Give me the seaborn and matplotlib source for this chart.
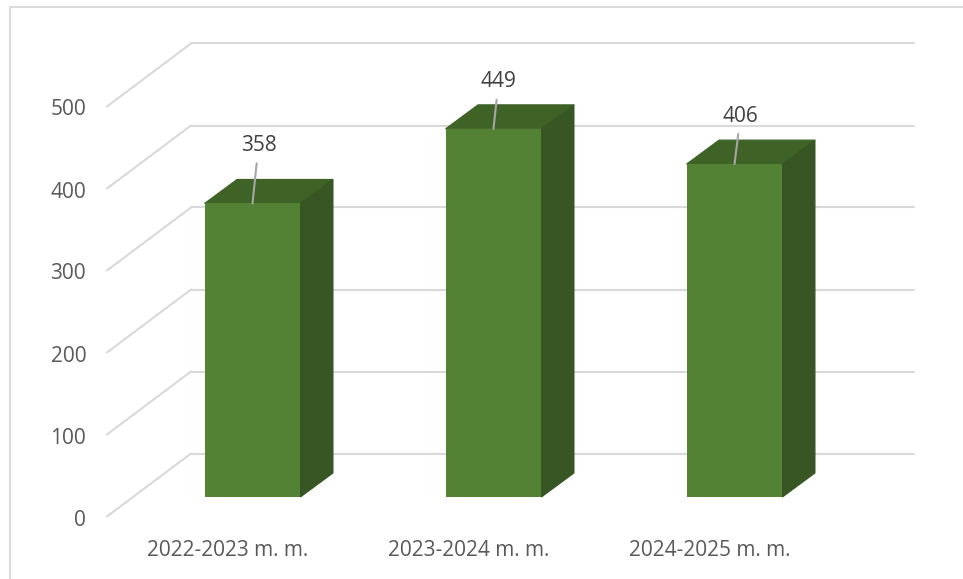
import matplotlib
matplotlib.use("Agg")
import matplotlib.pyplot as plt
from matplotlib.patches import Polygon
from matplotlib.transforms import Affine2D
import seaborn as sns

# Chart data
years = ["2022-2023 m. m.", "2023-2024 m. m.", "2024-2025 m. m."]
values = [358, 449, 406]
y_ticks = [0, 100, 200, 300, 400, 500]

# Fake 3D offsets in pixels
WALL_DX, WALL_DY = 84, 63
BAR_DX, BAR_DY = 25, 19.5
DEPTH_DX, DEPTH_DY = 32.5, 24

# where each value label sits relative to its bar top, in pixels
label_offsets = [(6, 58), (5, 47), (6, 48)]

FRONT = "#548235"
TOP = "#3f6327"
SIDE = "#375623"
GRID = "#d9d9d9"
TEXT = "#595959"

sns.set_theme(style="white")
plt.rcParams["font.family"] = ["Open Sans", "DejaVu Sans"]

W, H = 963, 579
fig = plt.figure(figsize=(W / 100, H / 100), dpi=100)
ax = fig.add_axes([107 / W, 1 - 516.5 / H, 723 / W, 410 / H])

sns.barplot(x=years, y=values, color=FRONT, saturation=1, width=0.398, linewidth=0, ax=ax, zorder=3)
ax.set_xlim(-0.5, 2.5)
ax.set_ylim(0, 500)
ax.set_yticks(y_ticks)
sns.despine(ax=ax, left=True, bottom=True)
ax.tick_params(axis="y", length=0, pad=15, labelsize=15, labelcolor=TEXT)
ax.tick_params(axis="x", length=0, pad=17, labelsize=15, labelcolor=TEXT)

# y labels sit a little under their grid lines
for lab in ax.get_yticklabels():
    lab.set_transform(lab.get_transform() + Affine2D().translate(0, -1))

wall_tr = ax.transData + Affine2D().translate(WALL_DX, WALL_DY)
bar_tr = ax.transData + Affine2D().translate(BAR_DX, BAR_DY)

# back wall grid lines and the diagonals on the side wall
for t in y_ticks:
    ax.plot([-0.5, 2.5], [t, t], color=GRID, lw=1.5, transform=wall_tr, clip_on=False, zorder=1)
    p0 = ax.transData.transform((-0.5, t))
    diag = plt.Line2D([p0[0], p0[0] + WALL_DX], [p0[1], p0[1] + WALL_DY], color=GRID, lw=1.5,
                      transform=None, clip_on=False, zorder=1)
    ax.add_artist(diag)

# front faces moved back, then top and side faces
for bar, val, off in zip(ax.patches, values, label_offsets):
    bar.set_transform(bar_tr)
    bar.set_clip_on(False)
    x0 = bar.get_x()
    x1 = x0 + bar.get_width()
    (ax0, ay0), (ax1, ay1) = bar_tr.transform([(x0, 0), (x1, val)])
    top = [(ax0, ay1), (ax1, ay1), (ax1 + DEPTH_DX, ay1 + DEPTH_DY), (ax0 + DEPTH_DX, ay1 + DEPTH_DY)]
    side = [(ax1, ay0), (ax1, ay1), (ax1 + DEPTH_DX, ay1 + DEPTH_DY), (ax1 + DEPTH_DX, ay0 + DEPTH_DY)]
    ax.add_artist(Polygon(top, closed=True, fc=TOP, ec=TOP, lw=0.8, transform=None, clip_on=False, zorder=2.5))
    ax.add_artist(Polygon(side, closed=True, fc=SIDE, ec=SIDE, lw=0.8, transform=None, clip_on=False, zorder=2.5))
    ax.annotate(str(val), xy=((x0 + x1) / 2, val), xycoords=bar_tr,
                xytext=off, textcoords="offset pixels", ha="center", va="center",
                fontsize=15, color="#404040", zorder=5, annotation_clip=False,
                arrowprops=dict(arrowstyle="-", color="#a6a6a6", lw=1.5, patchA=None, shrinkA=13, shrinkB=0))

# thin frame of the pasted chart
fig.add_artist(plt.Line2D([9.5 / W, 9.5 / W], [0, 1 - 7 / H], color="#dcdcdc", lw=1.4))
fig.add_artist(plt.Line2D([9.5 / W, 1], [1 - 7 / H, 1 - 7 / H], color="#dcdcdc", lw=1.4))

fig.savefig("out.png", dpi=100)
